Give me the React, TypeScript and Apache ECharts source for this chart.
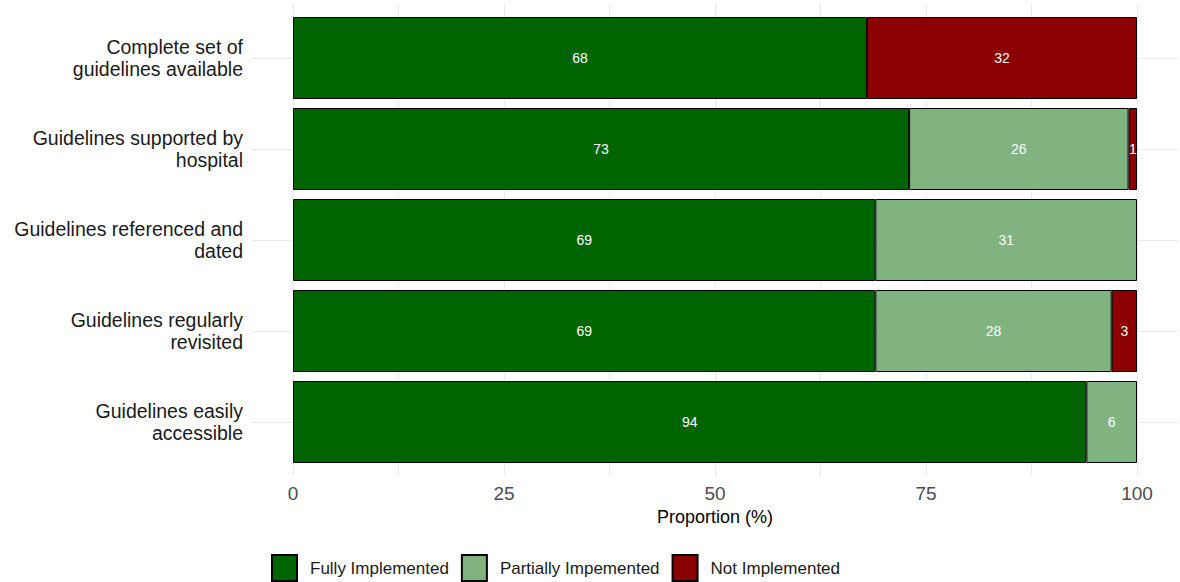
import React, { useEffect, useRef } from "react";
import * as echarts from "echarts";

const categories = [
  "Complete set of\nguidelines available",
  "Guidelines supported by\nhospital",
  "Guidelines referenced and\ndated",
  "Guidelines regularly\nrevisited",
  "Guidelines easily\naccessible",
];
const fully = [68, 73, 69, 69, 94];
const partially = [null, 26, 31, 28, 6];
const notImpl = [32, 1, null, 3, null];
const seriesNames = ["Fully Implemented", "Partially Impemented", "Not Implemented"];
const colors = ["#006400", "#80B380", "#8B0000"];
const xTicks = [0, 25, 50, 75, 100];

export default function App() {
  const ref = useRef<HTMLDivElement>(null);
  useEffect(() => {
    if (!ref.current) return;
    const chart = echarts.init(ref.current, null, { renderer: "svg" });
    const font = "'Liberation Sans', Arial, sans-serif";
    const data = [fully, partially, notImpl];
    chart.setOption({
      animation: false,
      textStyle: { fontFamily: font },
      grid: [
        { left: 293, width: 844, top: 12.5, height: 455 },
        { left: 293, width: 844, top: 4, height: 471 },
        { left: 252, right: 2, top: 58, height: 364 },
      ],
      xAxis: [
        {
          type: "value",
          gridIndex: 0,
          min: 0,
          max: 100,
          interval: 25,
          axisLine: { show: false },
          axisTick: { show: false },
          splitLine: { show: false },
          axisLabel: {
            fontSize: 19,
            color: "#4d4d4d",
            margin: 16,
            formatter: (v: number) => (xTicks.includes(v) ? String(v) : ""),
          },
          name: "Proportion (%)",
          nameLocation: "middle",
          nameGap: 40,
          nameTextStyle: { fontSize: 18, color: "#000" },
        },
        {
          type: "value",
          gridIndex: 1,
          min: 0,
          max: 100,
          interval: 12.5,
          axisLine: { show: false },
          axisTick: { show: false },
          axisLabel: { show: false },
          splitLine: { show: true, lineStyle: { color: "#ebebeb", width: 1 } },
        },
        {
          type: "value",
          gridIndex: 2,
          min: 0,
          max: 1,
          show: false,
        },
      ],
      yAxis: [
        {
          type: "category",
          gridIndex: 0,
          data: categories,
          inverse: true,
          axisLine: { show: false },
          axisTick: { show: false },
          splitLine: { show: false },
          axisLabel: {
            fontSize: 19.5,
            color: "#1a1a1a",
            margin: 50,
            align: "right",
            lineHeight: 22,
          },
        },
        {
          type: "value",
          gridIndex: 1,
          min: 0,
          max: 1,
          show: false,
        },
        {
          type: "value",
          gridIndex: 2,
          min: 1,
          max: 5,
          interval: 1,
          axisLine: { show: false },
          axisTick: { show: false },
          axisLabel: { show: false },
          splitLine: { show: true, lineStyle: { color: "#ebebeb", width: 1 } },
        },
      ],
      legend: {
        left: 271,
        top: 554,
        padding: 0,
        itemWidth: 25,
        itemHeight: 26,
        itemGap: 12,
        icon: "rect",
        data: seriesNames,
        textStyle: { fontSize: 17, color: "#1a1a1a", padding: [0, 0, 0, 8] },
      },
      series: seriesNames.map((name, i) => ({
        name,
        type: "bar",
        stack: "total",
        xAxisIndex: 0,
        yAxisIndex: 0,
        barWidth: 82,
        data: data[i],
        itemStyle: { color: colors[i], borderColor: "#000", borderWidth: 1 },
        label: {
          show: true,
          position: "inside",
          color: "#fff",
          fontSize: 14,
          formatter: (p: any) => (p.value == null ? "" : String(p.value)),
        },
      })),
    });
    return () => chart.dispose();
  }, []);
  return <div ref={ref} style={{ width: 1180, height: 582, position: "absolute", left: 0, top: 0 }} />;
}
